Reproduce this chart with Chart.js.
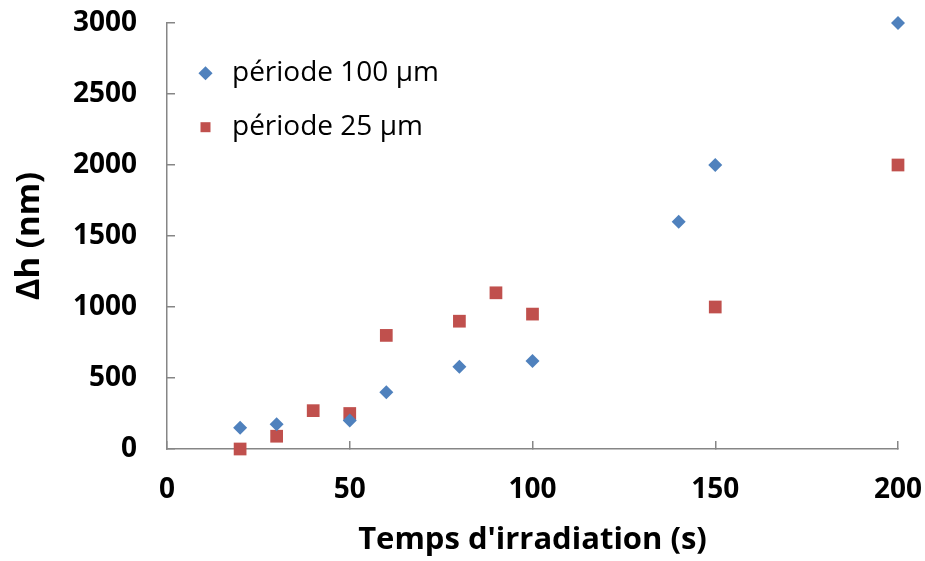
<!DOCTYPE html>
<html><head><meta charset="utf-8">
<script src="https://cdn.jsdelivr.net/npm/chart.js@4/dist/chart.umd.min.js"></script>
<style>html,body{margin:0;padding:0;background:#fff;}canvas{display:block;}</style>
</head><body>
<canvas id="c" width="925" height="561"></canvas>
<script>
const seriesNames = ['période 100 µm', 'période 25 µm'];
const x100 = [20, 30, 50, 60, 80, 100, 140, 150, 200];
const y100 = [150, 175, 200, 400, 580, 620, 1600, 2000, 3000];
const x25 = [20, 30, 40, 50, 60, 80, 90, 100, 150, 200];
const y25 = [0, 90, 270, 250, 800, 900, 1100, 950, 1000, 2000];
const xTicks = [0, 50, 100, 150, 200];
const yTicks = [0, 500, 1000, 1500, 2000, 2500, 3000];
const xTitle = "Temps d'irradiation (s)";
const yTitle = 'Δh (nm)';

const FONT = "'Open Sans', sans-serif";
const AXIS = '#868686';
const pts = (xs, ys) => xs.map((x, i) => ({x: x, y: ys[i]}));
const noPad = s => { s.paddingTop = 0; s.paddingBottom = 0; s.paddingLeft = 0; s.paddingRight = 0; };

new Chart(document.getElementById('c'), {
  type: 'scatter',
  data: {
    datasets: [
      {label: seriesNames[0], data: pts(x100, y100), pointStyle: 'rectRot', pointRadius: 7, pointHoverRadius: 7,
       backgroundColor: '#4F81BD', borderColor: '#4F81BD', borderWidth: 0, clip: false},
      {label: seriesNames[1], data: pts(x25, y25), pointStyle: 'rect', pointRadius: 9, pointHoverRadius: 9,
       backgroundColor: '#C0504D', borderColor: '#C0504D', borderWidth: 0, clip: false}
    ]
  },
  options: {
    responsive: false,
    animation: false,
    layout: {padding: {left: 0, right: 27, top: 23, bottom: 0}},
    plugins: {
      tooltip: {enabled: false},
      legend: {
        position: 'chartArea',
        align: 'start',
        title: {display: true, text: ' ', font: {size: 1}, padding: {top: 32, bottom: 0}},
        labels: {
          usePointStyle: true, boxWidth: 25, boxHeight: 10, padding: 26,
          color: '#000', font: {family: FONT, size: 28}
        }
      }
    },
    scales: {
      x: {
        type: 'linear', min: 0, max: 200,
        afterBuildTicks: s => { s.ticks = xTicks.map(v => ({value: v})); },
        afterFit: s => { s.height = 112; noPad(s); },
        border: {color: AXIS, width: 1.5},
        grid: {drawOnChartArea: false, drawTicks: true, tickLength: -8, color: AXIS, lineWidth: 1.5},
        ticks: {color: '#000', padding: 32, font: {family: FONT, size: 28, weight: 'bold'}, maxRotation: 0,
                callback: v => String(v)},
        title: {display: true, text: xTitle, color: '#000', padding: {top: 0, bottom: 2},
                font: {family: FONT, size: 31, weight: 'bold'}}
      },
      y: {
        type: 'linear', min: 0, max: 3000,
        afterBuildTicks: s => { s.ticks = yTicks.map(v => ({value: v})); },
        afterFit: s => { s.width = 167; noPad(s); },
        border: {color: AXIS, width: 1.5},
        grid: {drawOnChartArea: false, drawTicks: true, tickLength: -8, color: AXIS, lineWidth: 1.5},
        ticks: {color: '#000', padding: 38, font: {family: FONT, size: 28, weight: 'bold'},
                callback: v => String(v)},
        title: {display: true, text: yTitle, color: '#000', padding: {top: 10, bottom: 0},
                font: {family: FONT, size: 33, weight: 'bold'}}
      }
    }
  }
});
</script>
</body></html>
